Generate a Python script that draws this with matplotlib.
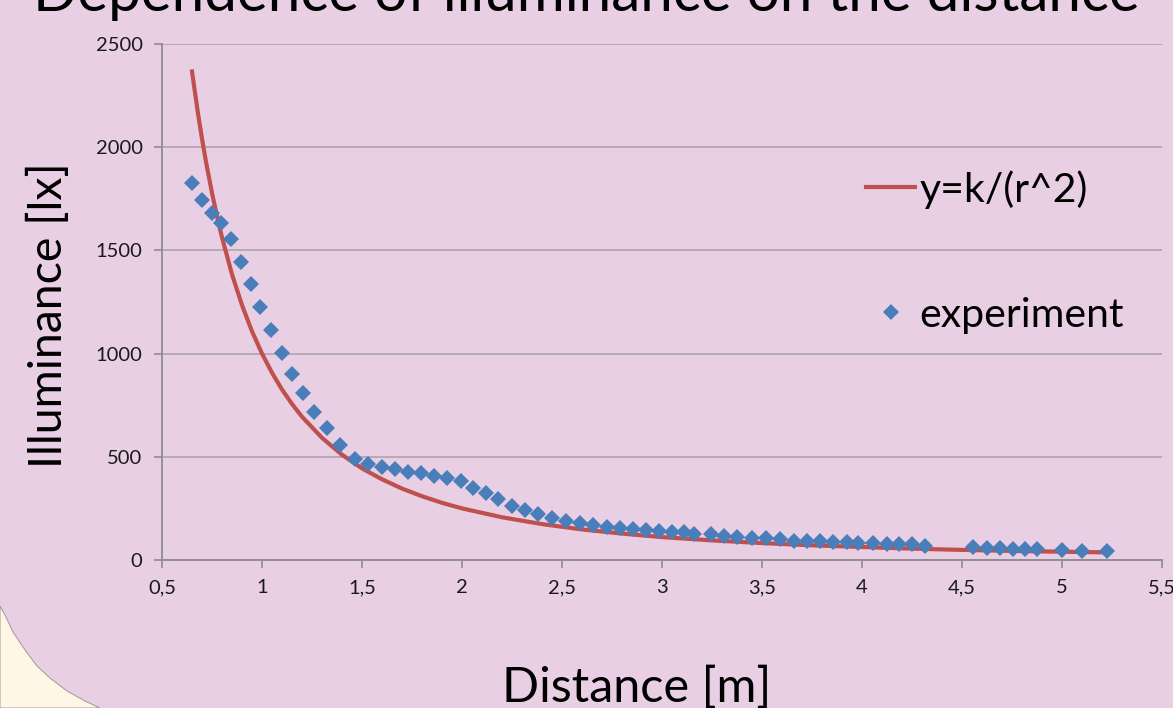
import matplotlib
matplotlib.use("Agg")
import matplotlib.pyplot as plt
from matplotlib.patches import Polygon
from matplotlib.ticker import FuncFormatter

# experiment: distance [m] and illuminance [lx]
dist = [0.65, 0.70, 0.75, 0.795, 0.845, 0.895, 0.945, 0.99, 1.045, 1.10,
        1.15, 1.205, 1.26, 1.325, 1.39, 1.465, 1.53, 1.60, 1.665, 1.73,
        1.795, 1.86, 1.925, 1.995, 2.055, 2.12, 2.18, 2.25, 2.315, 2.38,
        2.45, 2.52, 2.59, 2.655, 2.725, 2.79, 2.855, 2.92, 2.985, 3.05,
        3.11, 3.16, 3.245, 3.31, 3.375, 3.45, 3.52, 3.59, 3.66, 3.725,
        3.79, 3.855, 3.925, 3.98, 4.055, 4.125, 4.185, 4.25, 4.315, 4.555,
        4.625, 4.69, 4.755, 4.815, 4.875, 5.0, 5.1, 5.225]
lux = [1828, 1744, 1683, 1634, 1555, 1445, 1337, 1227, 1114, 1001,
       900, 808, 718, 638, 557, 489, 464, 452, 439, 425,
       420, 408, 399, 383, 347, 323, 296, 263, 242, 221,
       205, 189, 178, 170, 161, 156, 150, 145, 140, 134,
       134, 126, 125, 118, 113, 108, 105, 100, 94, 94,
       92, 89, 86, 84, 81, 78, 76, 76, 69, 62,
       60, 60, 53, 53, 53, 48, 44, 44]

# fitted curve y=k/(r^2)
fit_r = [0.65, 0.68, 0.70, 0.72, 0.75, 0.78, 0.80, 0.85, 0.90, 0.95,
         1.00, 1.05, 1.10, 1.15, 1.20, 1.30, 1.40, 1.50, 1.60, 1.70,
         1.80, 1.90, 2.00, 2.20, 2.40, 2.60, 2.80, 3.00, 3.25, 3.50,
         3.75, 4.00, 4.25, 4.50, 4.75, 5.00, 5.22]
fit_lux = [2367, 2163, 2041, 1929, 1778, 1644, 1563, 1384, 1235, 1108,
           1000, 907, 826, 756, 694, 592, 510, 444, 391, 346,
           309, 277, 250, 207, 174, 148, 128, 111, 95, 82,
           71, 63, 55, 49, 44, 40, 37]

x_ticks = [0.5, 1, 1.5, 2, 2.5, 3, 3.5, 4, 4.5, 5, 5.5]
y_ticks = [0, 500, 1000, 1500, 2000, 2500]

bg = '#e8cfe4'
grid_col = '#a8a0a6'
plt.rcParams['font.family'] = ['Lato', 'DejaVu Sans']

fig = plt.figure(figsize=(11.73, 7.08), dpi=100)
fig.patch.set_facecolor(bg)

# beige corner shape bottom-left
W, H = 1173, 708
corner = [(0, 606), (6, 617), (13, 632), (25, 650), (37, 666), (50, 678),
          (67, 691), (85, 701), (100, 708), (0, 708)]
fig.patches.append(Polygon([(x / W, 1 - y / H) for x, y in corner],
                           closed=True, transform=fig.transFigure,
                           facecolor='#fff6e6', edgecolor='#9a9a9a', lw=0.7))

ax = fig.add_axes([162 / W, 1 - 560 / H, 1000 / W, 516 / H])
ax.set_facecolor('none')

ax.plot(fit_r, fit_lux, color='#c0504d', lw=3, label='y=k/(r^2)', zorder=3)
ax.plot(dist, lux, linestyle='none', marker='D', markersize=8.6,
        color='#4a7ebb', markeredgewidth=0, label='experiment', zorder=4)

ax.set_xlim(0.5, 5.5)
ax.set_ylim(0, 2500)
ax.set_xticks(x_ticks)
ax.set_yticks(y_ticks)
ax.xaxis.set_major_formatter(FuncFormatter(lambda v, p: f'{v:g}'.replace('.', ',')))
ax.yaxis.grid(True, color=grid_col, lw=1.1)
ax.set_axisbelow(True)
for s in ['top', 'right']:
    ax.spines[s].set_visible(False)
for s in ['left', 'bottom']:
    ax.spines[s].set_color('#8c8c8c')
    ax.spines[s].set_linewidth(1.3)
ax.tick_params(axis='both', colors='#8c8c8c', length=6, width=1.2,
               labelcolor='#1a1a1a', labelsize=14.5)
ax.tick_params(axis='y', pad=8)
ax.tick_params(axis='x', pad=8)

fig.text(48 / W, 1 - 315 / H, 'Illuminance [lx]', rotation=90, fontsize=33.5,
         ha='center', va='center')
fig.text(637 / W, 1 - 688 / H, 'Distance [m]', fontsize=35,
         ha='center', va='center')
fig.text(586 / W, 1 - 11 / H, 'Dependence of illuminance on the distance',
         fontsize=42, ha='center', va='baseline')

ax.legend(loc='upper left', bbox_to_anchor=(866 / W, 1 - 170 / H),
          bbox_transform=fig.transFigure, frameon=False, fontsize=29.5,
          handlelength=1.2, handletextpad=0.1, labelspacing=2.15,
          borderpad=0, borderaxespad=0)

fig.savefig('out.png', dpi=100, facecolor=bg)
